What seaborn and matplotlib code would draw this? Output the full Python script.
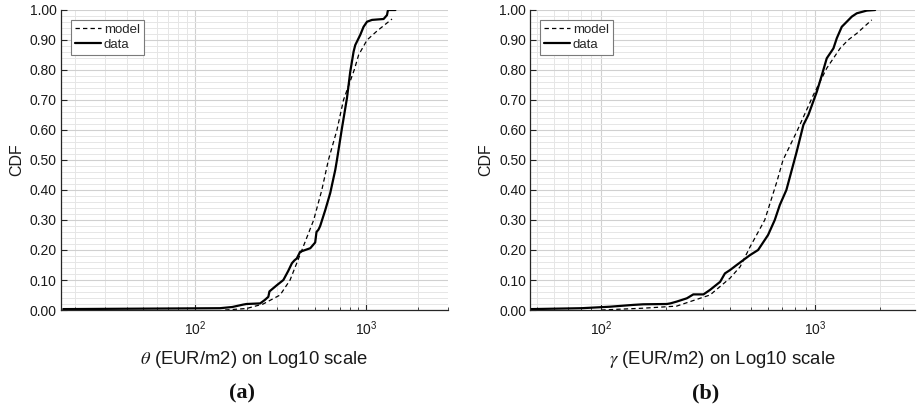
import numpy as np
import pandas as pd
import matplotlib
matplotlib.use("Agg")
import matplotlib.pyplot as plt
from matplotlib.ticker import LogLocator, LogFormatterSciNotation, MultipleLocator, FormatStrFormatter, NullFormatter
import seaborn as sns

# ---- (a) theta: empirical CDF and fitted model ----
theta_data_x = [17, 140, 165, 191, 200, 240, 255, 268, 272, 301, 328, 350, 368, 380, 393, 411,
                440, 471, 503, 512, 526, 538, 576, 616, 659, 674, 721, 771, 806, 843, 862,
                922, 964, 1010, 1080, 1262, 1321, 1335, 1350, 1479]
theta_data_y = [0.003, 0.006, 0.010, 0.018, 0.020, 0.022, 0.033, 0.044, 0.062, 0.083, 0.100,
                0.130, 0.156, 0.165, 0.172, 0.194, 0.200, 0.206, 0.225, 0.260, 0.268, 0.280,
                0.333, 0.390, 0.467, 0.500, 0.606, 0.706, 0.794, 0.861, 0.883, 0.917, 0.944,
                0.961, 0.967, 0.970, 0.983, 0.997, 1.000, 1.000]
theta_model_x = [150, 200, 250, 314, 359, 421, 493, 550, 601, 674, 736, 850, 902, 1010, 1155, 1413]
theta_model_y = [0.000, 0.005, 0.020, 0.050, 0.100, 0.200, 0.300, 0.400, 0.500, 0.600, 0.700,
                 0.800, 0.850, 0.900, 0.930, 0.970]

# ---- (b) gamma: empirical CDF and fitted model ----
gamma_data_x = [47, 81, 110, 141, 157, 202, 210, 225, 251, 269, 300, 322, 359, 378, 399, 429,
                495, 540, 601, 646, 682, 732, 818, 879, 927, 1016, 1072, 1130, 1214, 1259,
                1328, 1402, 1480, 1561, 1738, 1901]
gamma_data_y = [0.003, 0.006, 0.011, 0.017, 0.019, 0.020, 0.022, 0.028, 0.039, 0.052, 0.052,
                0.067, 0.094, 0.122, 0.133, 0.150, 0.183, 0.200, 0.250, 0.300, 0.350, 0.400,
                0.528, 0.617, 0.650, 0.728, 0.783, 0.839, 0.872, 0.906, 0.944, 0.961, 0.978,
                0.989, 0.998, 1.000]
gamma_model_x = [100, 157, 225, 289, 322, 399, 445, 495, 580, 661, 706, 818, 979, 1130, 1304,
                 1422, 1561, 1834]
gamma_model_y = [0.000, 0.006, 0.013, 0.039, 0.050, 0.106, 0.144, 0.210, 0.300, 0.428, 0.500,
                 0.594, 0.717, 0.806, 0.872, 0.900, 0.922, 0.967]

y_ticks = [0.0, 0.1, 0.2, 0.3, 0.4, 0.5, 0.6, 0.7, 0.8, 0.9, 1.0]

sns.set_theme(style="ticks")
plt.rcParams["font.family"] = ["Liberation Sans", "DejaVu Sans"]
plt.rcParams["mathtext.fontset"] = "stix"

fig = plt.figure(figsize=(9.17, 4.08), dpi=100)
ax_a = fig.add_axes([61 / 917, 1 - 310 / 408, 387 / 917, 300 / 408])
ax_b = fig.add_axes([530.3 / 917, 1 - 310 / 408, 384.4 / 917, 300 / 408])

panels = [
    (ax_a, theta_data_x, theta_data_y, theta_model_x, theta_model_y, (16.5, 3000),
     r"$\theta$ (EUR/m2) on Log10 scale", "(a)", 242.5),
    (ax_b, gamma_data_x, gamma_data_y, gamma_model_x, gamma_model_y, (46.6, 2910),
     r"$\gamma$ (EUR/m2) on Log10 scale", "(b)", 705.5),
]

for ax, dx, dy, mx, my, xlim, xlabel, tag, tag_x in panels:
    ax.set_xscale("log")
    model_df = pd.DataFrame({"x": mx, "cdf": my})
    data_df = pd.DataFrame({"x": dx, "cdf": dy})
    sns.lineplot(data=model_df, x="x", y="cdf", ax=ax, color="black", linewidth=0.9,
                 linestyle=(0, (3.5, 2.5)), estimator=None, sort=False, label="model")
    sns.lineplot(data=data_df, x="x", y="cdf", ax=ax, color="black", linewidth=1.6,
                 estimator=None, sort=False, label="data")

    ax.set_xlim(*xlim)
    ax.set_ylim(0, 1)
    ax.set_yticks(y_ticks)
    ax.yaxis.set_major_formatter(FormatStrFormatter("%.2f"))
    ax.yaxis.set_minor_locator(MultipleLocator(0.02))
    ax.xaxis.set_major_locator(LogLocator(base=10))
    ax.xaxis.set_major_formatter(LogFormatterSciNotation(base=10))
    ax.xaxis.set_minor_locator(LogLocator(base=10, subs=np.arange(2, 10)))
    ax.xaxis.set_minor_formatter(NullFormatter())

    ax.grid(which="major", color="#d0d0d0", linewidth=0.8)
    ax.grid(which="minor", color="#e6e6e6", linewidth=0.7)
    ax.set_axisbelow(True)

    for side in ("top", "right"):
        ax.spines[side].set_visible(False)
    for side in ("left", "bottom"):
        ax.spines[side].set_color("#262626")
        ax.spines[side].set_linewidth(0.9)
    ax.tick_params(axis="both", which="major", direction="in", length=4, width=0.8,
                   colors="#262626", labelsize=10, labelcolor="#1a1a1a")
    ax.tick_params(axis="x", which="minor", direction="in", length=2.5, width=0.6,
                   colors="#262626")
    ax.tick_params(axis="y", which="minor", length=0)
    ax.tick_params(axis="x", which="major", pad=7)
    ax.tick_params(axis="y", which="major", pad=3)

    ax.set_xlabel(xlabel, fontsize=13.3, labelpad=8, color="#1a1a1a")
    ax.set_ylabel("CDF", fontsize=11.5, labelpad=4, color="#1a1a1a")

    leg = ax.legend(loc="upper left", bbox_to_anchor=(0.025, 0.967), borderaxespad=0,
                    fontsize=9.5, frameon=True, fancybox=False, handlelength=2.0,
                    handletextpad=0.2, borderpad=0.3, labelspacing=0.2)
    leg.get_frame().set_edgecolor("#7a7a7a")
    leg.get_frame().set_linewidth(0.8)
    leg.get_frame().set_facecolor("white")
    leg.get_frame().set_alpha(1)

    fig.text(tag_x / 917, 1 - 393 / 408, tag, ha="center", va="center", fontsize=16,
             fontweight="bold", family="Liberation Serif", color="#111111")

fig.savefig("out.png", dpi=100)
